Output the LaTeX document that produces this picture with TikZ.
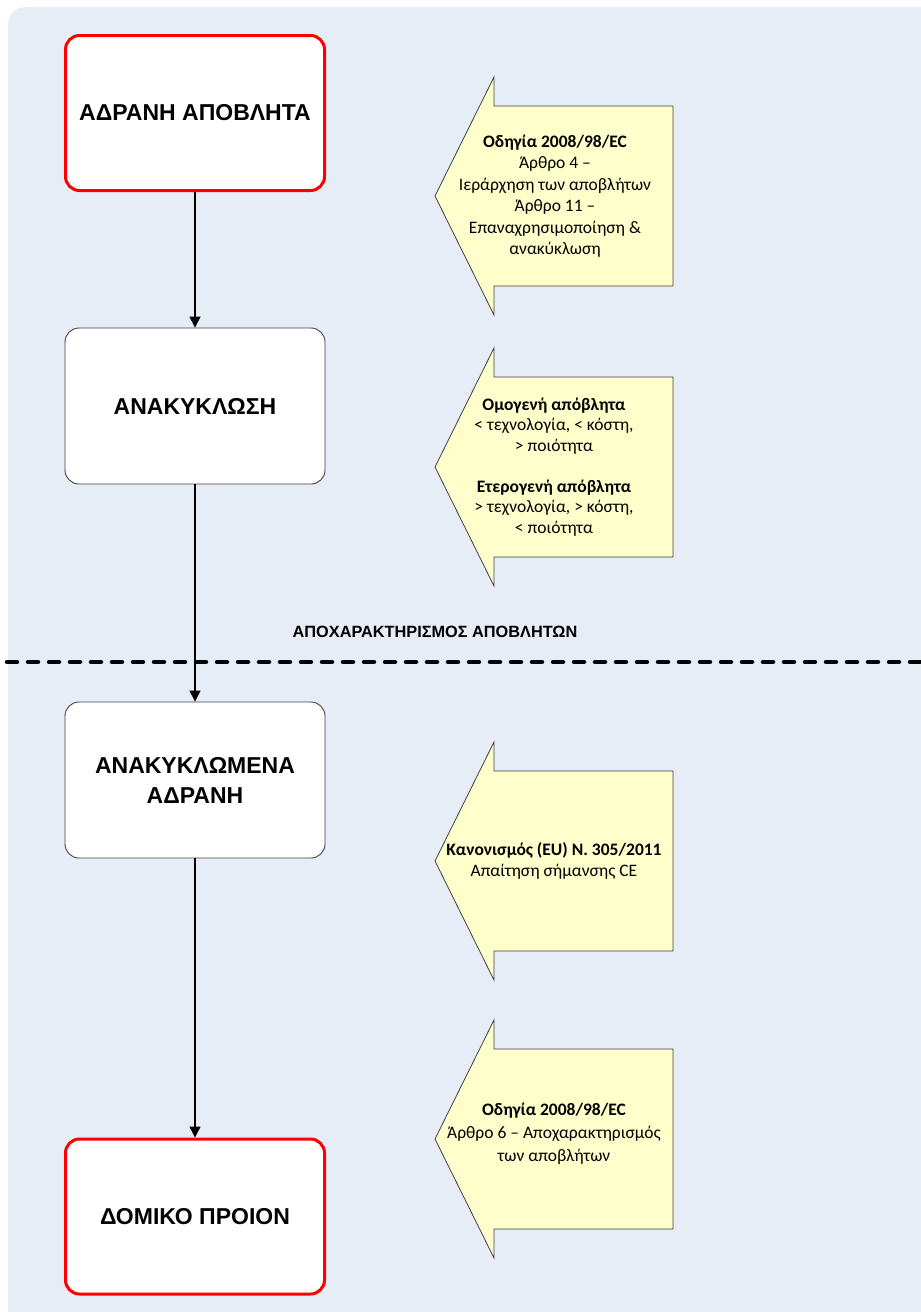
\documentclass[tikz,border=0pt]{standalone}
\usepackage{fontspec}
\setmainfont{Carlito}
\newfontfamily\arialfont{Liberation Sans}
\usetikzlibrary{arrows.meta}
\definecolor{bgblue}{HTML}{E7EDF7}
\definecolor{callfill}{HTML}{FFFFCC}
\definecolor{calledge}{HTML}{404040}
\definecolor{boxedge}{HTML}{404040}
\tikzset{
  redbox/.style={draw=red, line width=3pt, fill=white, rounded corners=14pt, minimum width=259pt, minimum height=155pt, align=center, font=\arialfont\bfseries\fontsize{23}{28}\selectfont},
  graybox/.style={draw=boxedge, line width=0.9pt, fill=white, rounded corners=14pt, minimum width=260pt, minimum height=156pt, align=center, font=\arialfont\bfseries\fontsize{23}{30}\selectfont},
  flow/.style={line width=1.3pt, -{Triangle[width=11pt,length=11pt]}},
  callout/.style={draw=calledge, line width=0.8pt, fill=callfill},
  calltext/.style={align=center, font=\fontsize{17.5}{21.5}\selectfont, inner sep=0pt},
}
\begin{document}
\begin{tikzpicture}[x=1pt,y=-1pt]
\useasboundingbox (0,0) rectangle (921,1312);
\fill[bgblue, rounded corners=18pt] (8,7) rectangle (940,1330);

% dashed separator
\coordinate (dl) at (7,662);
\coordinate (dr) at (925,662);
\draw[line width=4.5pt, line cap=round, dash pattern=on 10pt off 11pt] (dl) -- (dr);
\node[font=\arialfont\bfseries\fontsize{16.3}{19}\selectfont, inner sep=0pt] (sep) at (435,632) {ΑΠΟΧΑΡΑΚΤΗΡΙΣΜΟΣ ΑΠΟΒΛΗΤΩΝ};

% boxes
\node[redbox] (b1) at (195,113) {ΑΔΡΑΝΗ ΑΠΟΒΛΗΤΑ};
\node[graybox] (b2) at (195,406) {ΑΝΑΚΥΚΛΩΣΗ};
\node[graybox] (b3) at (195,780) {ΑΝΑΚΥΚΛΩΜΕΝΑ\\ΑΔΡΑΝΗ};
\node[redbox] (b4) at (195,1216.5) {ΔΟΜΙΚΟ ΠΡΟΙΟΝ};

\draw[flow] (b1.south) -- (b2.north);
\draw[flow] (b2.south) -- (b3.north);
\draw[flow] (b3.south) -- (b4.north);

% callouts
\foreach \cy in {196,467,861,1139}{
  \draw[callout] (435,\cy) -- (494,\cy-119) -- (494,\cy-90) -- (673,\cy-90) -- (673,\cy+90) -- (494,\cy+90) -- (494,\cy+119) -- cycle;
}
\node[calltext] (c1) at (555,196) {\textbf{Οδηγία 2008/98/EC}\\Άρθρο 4 –\\Ιεράρχηση των αποβλήτων\\Άρθρο 11 –\\Επαναχρησιμοποίηση \&\\ανακύκλωση};
\node[calltext, font=\fontsize{17.5}{20.5}\selectfont] (c2) at (554,467) {\textbf{Ομογενή απόβλητα}\\< τεχνολογία, < κόστη,\\> ποιότητα\\[20.5pt]\textbf{Ετερογενή απόβλητα}\\> τεχνολογία, > κόστη,\\< ποιότητα};
\node[calltext] (c3) at (554,861) {\textbf{Κανονισμός (EU) Ν. 305/2011}\\Απαίτηση σήμανσης CE};
\node[calltext, font=\fontsize{17.5}{23}\selectfont] (c4) at (554,1134) {\textbf{Οδηγία 2008/98/EC}\\Άρθρο 6 – Αποχαρακτηρισμός\\των αποβλήτων};
\end{tikzpicture}
\end{document}
